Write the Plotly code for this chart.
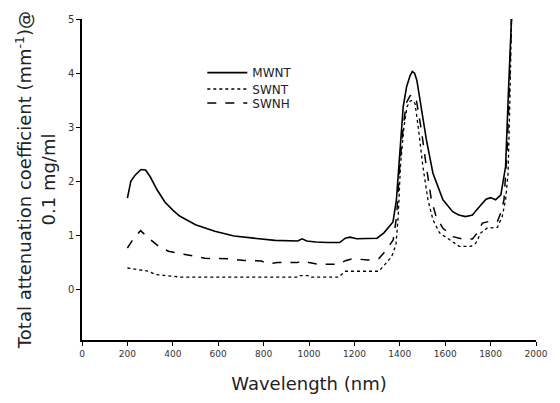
import plotly.graph_objects as go

# ---- data ----
mwnt_x = [200, 215, 235, 260, 280, 300, 330, 365, 400, 430, 500, 585, 670, 750, 800, 850,
          950, 970, 990, 1030, 1080, 1135, 1160, 1180, 1210, 1260, 1300, 1330, 1370, 1385,
          1400, 1415, 1430, 1445, 1455, 1465, 1475, 1495, 1517, 1546, 1590, 1633, 1660,
          1690, 1720, 1740, 1780, 1800, 1822, 1845, 1866, 1880, 1892]
mwnt_y = [1.69, 2.0, 2.12, 2.22, 2.21, 2.09, 1.85, 1.62, 1.47, 1.36, 1.2, 1.08, 0.99, 0.95,
          0.93, 0.91, 0.90, 0.94, 0.90, 0.88, 0.87, 0.87, 0.95, 0.97, 0.94, 0.94, 0.95, 1.05,
          1.25, 1.66, 2.58, 3.38, 3.75, 3.95, 4.03, 4.0, 3.87, 3.32, 2.77, 2.15, 1.66, 1.44,
          1.38, 1.35, 1.38, 1.48, 1.67, 1.70, 1.66, 1.75, 2.27, 3.81, 5.0]

swnh_x = [200, 228, 258, 294, 338, 381, 454, 541, 643, 716, 790, 810, 840, 860, 950, 970,
          1000, 1040, 1130, 1160, 1190, 1220, 1260, 1307, 1342, 1371, 1386, 1400, 1415, 1429,
          1445, 1455, 1465, 1473, 1495, 1517, 1539, 1560, 1589, 1633, 1676, 1720, 1742, 1764,
          1793, 1830, 1844, 1859, 1873, 1885, 1892]
swnh_y = [0.77, 0.95, 1.09, 0.95, 0.80, 0.71, 0.65, 0.58, 0.57, 0.54, 0.53, 0.49, 0.49, 0.50,
          0.50, 0.535, 0.50, 0.47, 0.47, 0.535, 0.57, 0.56, 0.55, 0.57, 0.74, 0.92, 1.35, 2.3,
          3.01, 3.45, 3.58, 3.6, 3.58, 3.5, 2.95, 2.27, 1.66, 1.35, 1.14, 0.98, 0.935, 0.935,
          1.05, 1.23, 1.26, 1.26, 1.41, 1.66, 2.58, 4.0, 5.0]

swnt_x = [200, 250, 294, 323, 381, 440, 600, 800, 950, 960, 1000, 1010, 1130, 1160, 1180,
          1307, 1327, 1364, 1383, 1393, 1403, 1418, 1432, 1445, 1455, 1467, 1481, 1502, 1524,
          1546, 1575, 1618, 1662, 1713, 1735, 1757, 1786, 1830, 1851, 1866, 1877, 1885, 1892]
swnt_y = [0.40, 0.37, 0.34, 0.28, 0.26, 0.23, 0.23, 0.23, 0.23, 0.26, 0.26, 0.23, 0.23, 0.34,
          0.34, 0.34, 0.43, 0.61, 0.83, 1.35, 2.3, 3.0, 3.38, 3.48, 3.5, 3.44, 3.01, 2.27, 1.66,
          1.29, 1.05, 0.92, 0.80, 0.80, 0.86, 1.05, 1.14, 1.15, 1.35, 1.66, 2.15, 3.5, 5.0]

x_ticks = [0, 200, 400, 600, 800, 1000, 1200, 1400, 1600, 1800, 2000]
y_ticks = [0, 1, 2, 3, 4, 5]

FONT = "DejaVu Sans, Verdana, sans-serif"

fig = go.Figure()
fig.add_trace(go.Scatter(x=mwnt_x, y=mwnt_y, mode="lines", name="MWNT", legend="legend",
                         line=dict(color="black", width=1.6, dash="solid")))
fig.add_trace(go.Scatter(x=swnt_x, y=swnt_y, mode="lines", name="SWNT", legend="legend2",
                         line=dict(color="black", width=1.3, dash="dot")))
fig.add_trace(go.Scatter(x=swnh_x, y=swnh_y, mode="lines", name="SWNH", legend="legend3",
                         line=dict(color="black", width=1.5, dash="dash")))

leg_common = dict(x=0.265, xanchor="left", yanchor="middle",
                  bgcolor="rgba(0,0,0,0)", font=dict(family=FONT, size=12, color="#222"),
                  itemwidth=40)

fig.update_layout(
    width=560, height=403,
    margin=dict(l=82, r=19, t=19, b=63),
    paper_bgcolor="white", plot_bgcolor="white",
    font=dict(family=FONT, color="#222"),
    showlegend=True,
    legend=dict(y=0.833, **leg_common),
    legend2=dict(y=0.782, **leg_common),
    legend3=dict(y=0.738, **leg_common),
    xaxis=dict(range=[0, 2000], tickvals=x_ticks, ticktext=[str(v) for v in x_ticks],
               showline=True, linecolor="black", linewidth=1.5,
               ticks="outside", ticklen=4, tickwidth=1.2, tickcolor="black",
               showgrid=False, zeroline=False,
               tickfont=dict(size=9, color="#333"),
               title=dict(text="Wavelength (nm)", font=dict(size=18, color="#222"), standoff=20)),
    yaxis=dict(range=[-0.93, 5.0], tickvals=y_ticks, ticktext=[str(v) for v in y_ticks],
               showline=True, linecolor="black", linewidth=1.5,
               ticks="outside", ticklen=4, tickwidth=1.2, tickcolor="black",
               showgrid=False, zeroline=False,
               tickfont=dict(size=10, color="#333"),
               title=dict(text="Total attenuation coefficient (mm<sup>-1</sup>)@<br>0.1 mg/ml",
                          font=dict(size=18, color="#222"), standoff=8)),
)

fig.write_html("out.html")
